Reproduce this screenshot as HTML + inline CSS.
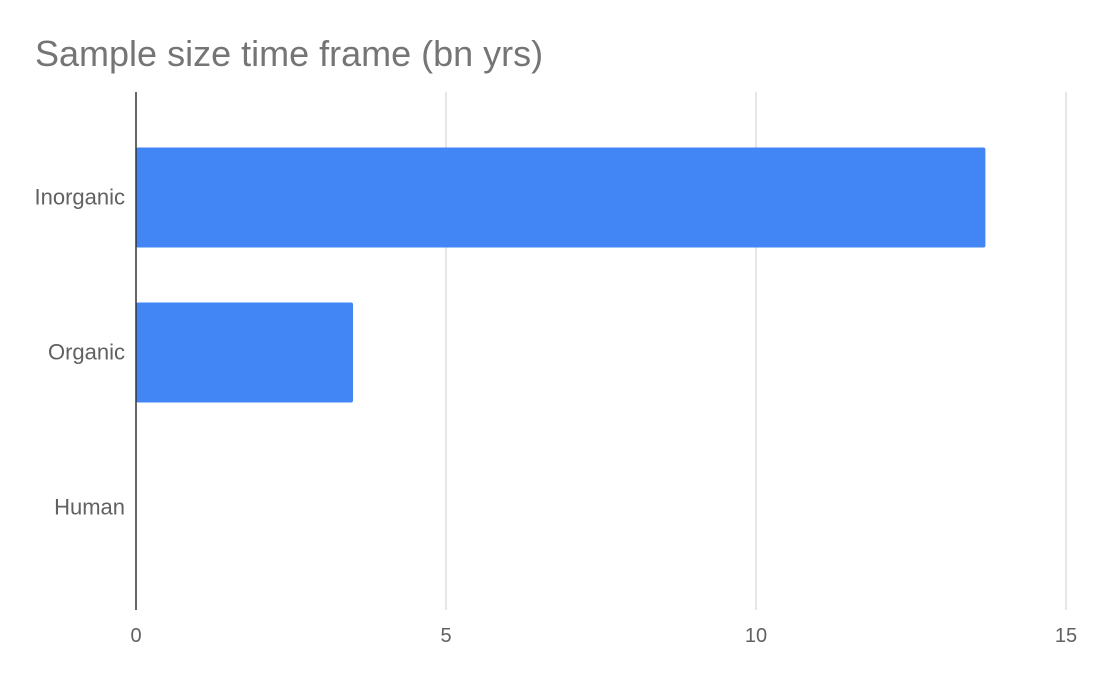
<!DOCTYPE html>
<html><head><meta charset="utf-8"><style>
body{margin:0;background:#fff;}
svg text{font-family:"Liberation Sans",sans-serif;}
</style></head><body>
<svg id="chart" width="1100" height="680" xmlns="http://www.w3.org/2000/svg">
<text x="35" y="66" font-size="36" fill="#757575">Sample size time frame (bn yrs)</text>
<g id="grid"></g><g id="bars"></g><g id="labels"></g>
</svg>
<script>
const categories = ["Inorganic", "Organic", "Human"];
const values = [13.7, 3.5, 0];
const ticks = [0, 5, 10, 15];
const x0 = 136, pxPerUnit = 62, plotTop = 92, plotBottom = 610, catTop = 120, band = 155;
const xs = v => x0 + v * pxPerUnit;
const ns = "http://www.w3.org/2000/svg";
const svg = document.getElementById('chart');
function mk(tag, attrs, parent){const e=document.createElementNS(ns,tag);for(const k in attrs)e.setAttribute(k,attrs[k]);parent.appendChild(e);return e;}
const grid = document.getElementById('grid');
ticks.forEach(t=>{
  if(t!==0){const l=mk('line',{x1:xs(t),x2:xs(t),y1:plotTop,y2:plotBottom,stroke:'#cccccc','stroke-width':1},grid);
  
  }
  const tx=mk('text',{x:xs(t),y:642,'font-size':20,fill:'#616161','text-anchor':'middle'},grid);
  tx.textContent=t;
  
  
});
const bars = document.getElementById('bars');
const labels = document.getElementById('labels');
categories.forEach((c,i)=>{
  const cy = catTop + band*(i+0.5);
  const w = xs(values[i]) - x0;
  if(w>0){const r=mk('rect',{x:x0,y:cy-50,width:w,height:100,fill:'#4285f4',rx:2},bars);
  
  }
  const t=mk('text',{x:125,y:cy+7,'font-size':22,fill:'#616161','text-anchor':'end'},labels);
  t.textContent=c;
  
  
});
const ax=mk('line',{x1:x0,x2:x0,y1:plotTop,y2:plotBottom,stroke:'#333333','stroke-width':1.5},svg);


</script>
</body></html>
